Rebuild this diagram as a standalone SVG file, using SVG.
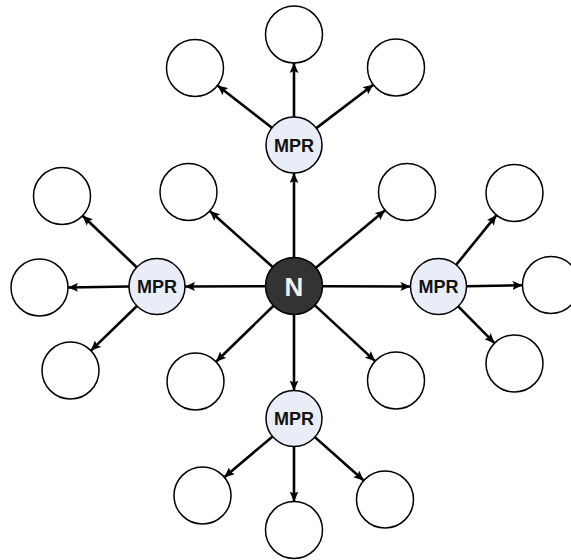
<svg xmlns="http://www.w3.org/2000/svg" width="571" height="560" viewBox="0 0 571 560">
  <style>
    .node { fill: #ffffff; stroke: #000000; stroke-width: 1.5; }
    .mpr { fill: #e8edf7; stroke: #000000; stroke-width: 1.5; }
    .origin { fill: #333333; stroke: #000000; stroke-width: 1.5; }
    .edge { stroke: #000000; stroke-width: 2.6; fill: none; marker-end: url(#arrow); }
    .lbl { font-family: "Liberation Sans", Arial, sans-serif; font-weight: bold; text-anchor: middle; }
    .mprtxt { font-size: 18px; fill: #111111; }
    .ntxt { font-size: 26px; fill: #f2f2f2; }
  </style>
  <defs>
    <marker id="arrow" markerUnits="userSpaceOnUse" markerWidth="11" markerHeight="9" refX="10" refY="4.5" orient="auto">
      <path d="M0,0 L10,4.5 L0,9 L2,4.5 z" fill="#000000"/>
    </marker>
  </defs>
  <rect width="571" height="560" fill="#ffffff"/>

  <g id="connectors">
    <!-- N to relays -->
    <line class="edge" x1="294" y1="257.5" x2="294" y2="173"/>
    <line class="edge" x1="265.5" y1="286.2" x2="185" y2="286.5"/>
    <line class="edge" x1="322.5" y1="286.2" x2="410.5" y2="286.5"/>
    <line class="edge" x1="294" y1="314.5" x2="294" y2="390.5"/>
    <!-- N to direct neighbours -->
    <line class="edge" x1="272.7" y1="267" x2="209.8" y2="211"/>
    <line class="edge" x1="315.9" y1="267.8" x2="385.1" y2="210.2"/>
    <line class="edge" x1="273.5" y1="305.8" x2="216" y2="361.7"/>
    <line class="edge" x1="314.9" y1="305.4" x2="375.1" y2="361.1"/>
    <!-- top relay -->
    <line class="edge" x1="294" y1="117" x2="294" y2="63"/>
    <line class="edge" x1="271.9" y1="127.8" x2="217.5" y2="85.5"/>
    <line class="edge" x1="316.3" y1="128.1" x2="373.3" y2="84.7"/>
    <!-- left relay -->
    <line class="edge" x1="136.7" y1="267.2" x2="82.6" y2="215.7"/>
    <line class="edge" x1="129" y1="286.5" x2="68" y2="287.5"/>
    <line class="edge" x1="136.9" y1="306" x2="90.9" y2="350.6"/>
    <!-- right relay -->
    <line class="edge" x1="456.2" y1="264.8" x2="496.5" y2="215.1"/>
    <line class="edge" x1="466.5" y1="286.3" x2="522.5" y2="285.2"/>
    <line class="edge" x1="458.2" y1="306.4" x2="494.5" y2="343.2"/>
    <!-- bottom relay -->
    <line class="edge" x1="272.6" y1="436.5" x2="224.3" y2="477.2"/>
    <line class="edge" x1="294" y1="446.5" x2="294" y2="501.5"/>
    <line class="edge" x1="314.9" y1="437.1" x2="363.7" y2="480.5"/>
  </g>

  <!-- central node -->
  <g id="node-n">
    <circle class="origin" cx="294" cy="286" r="28.5"/>
    <text class="lbl ntxt" x="294" y="296">N</text>
  </g>

  <!-- relays -->
  <g id="mpr-top">
    <circle class="mpr" cx="294" cy="145" r="28"/>
    <text class="lbl mprtxt" x="294" y="151.5">MPR</text>
  </g>
  <g id="mpr-left">
    <circle class="mpr" cx="157" cy="286.5" r="28"/>
    <text class="lbl mprtxt" x="157" y="293">MPR</text>
  </g>
  <g id="mpr-right">
    <circle class="mpr" cx="438.5" cy="286.5" r="28"/>
    <text class="lbl mprtxt" x="438.5" y="293">MPR</text>
  </g>
  <g id="mpr-bottom">
    <circle class="mpr" cx="294" cy="418.5" r="28"/>
    <text class="lbl mprtxt" x="294" y="425">MPR</text>
  </g>

  <!-- one-hop neighbours -->
  <g id="n1-ul"><circle class="node" cx="188.5" cy="192" r="28.5"/></g>
  <g id="n1-ur"><circle class="node" cx="407" cy="192" r="28.5"/></g>
  <g id="n1-ll"><circle class="node" cx="195.5" cy="381.5" r="28.5"/></g>
  <g id="n1-lr"><circle class="node" cx="396" cy="380.5" r="28.5"/></g>

  <!-- two-hop neighbours -->
  <g id="top-1"><circle class="node" cx="294" cy="34.5" r="28.5"/></g>
  <g id="top-2"><circle class="node" cx="195" cy="68" r="28.5"/></g>
  <g id="top-3"><circle class="node" cx="396" cy="67.5" r="28.5"/></g>

  <g id="left-1"><circle class="node" cx="62" cy="196" r="28.5"/></g>
  <g id="left-2"><circle class="node" cx="39.5" cy="287.5" r="28.5"/></g>
  <g id="left-3"><circle class="node" cx="70.5" cy="370.5" r="28.5"/></g>

  <g id="right-1"><circle class="node" cx="514.5" cy="193" r="28.5"/></g>
  <g id="right-2"><circle class="node" cx="551" cy="285" r="28.5"/></g>
  <g id="right-3"><circle class="node" cx="514.5" cy="363.5" r="28.5"/></g>

  <g id="bottom-1"><circle class="node" cx="202.5" cy="495.5" r="28.5"/></g>
  <g id="bottom-2"><circle class="node" cx="294" cy="530" r="28.5"/></g>
  <g id="bottom-3"><circle class="node" cx="385" cy="499.5" r="28.5"/></g>
</svg>
